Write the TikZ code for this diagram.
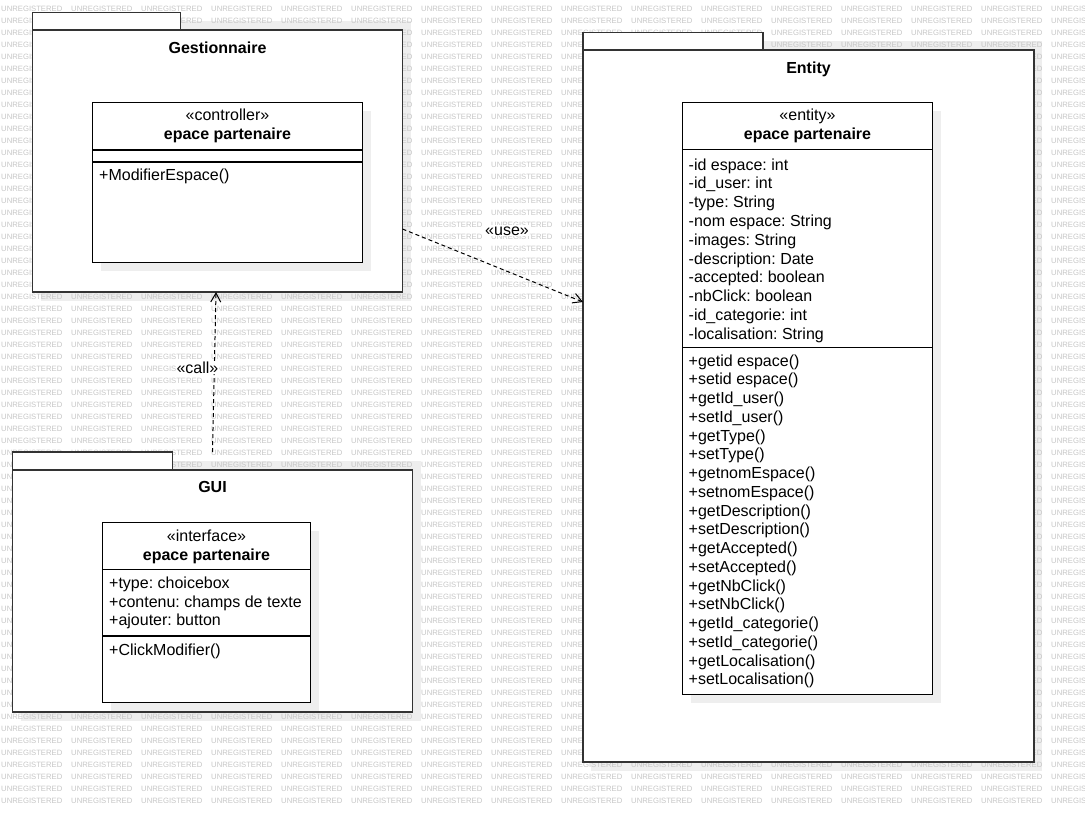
\documentclass[tikz,border=0pt]{standalone}
\usepackage{fontspec}
\setmainfont{Liberation Sans}
\usetikzlibrary{arrows.meta}

\definecolor{shadowgray}{HTML}{EEEEEE}
\definecolor{markgray}{HTML}{C6C6C6}
\definecolor{pkgline}{HTML}{333333}

\begin{document}
\frenchspacing
\begin{tikzpicture}[x=1pt,y=-1pt,font=\fontsize{16}{18.8}\selectfont]
  \tikzstyle{pkgshadow}=[fill=shadowgray,inner sep=0pt,outer sep=0pt,anchor=north west]
  \tikzstyle{pkg}=[draw=pkgline,fill=white,line width=1.4pt,inner sep=0pt,outer sep=0pt,anchor=north west]
  \tikzstyle{clsshadow}=[fill=shadowgray,inner sep=0pt,outer sep=0pt,anchor=north west]
  \tikzstyle{cls}=[draw=black,fill=white,line width=1.2pt,inner sep=0pt,outer sep=0pt,anchor=north west]
  \tikzstyle{pkgtitle}=[inner sep=0pt,anchor=base,font=\fontsize{16}{18.8}\selectfont\bfseries]
  \tikzstyle{stereo}=[inner sep=0pt,anchor=base]
  \tikzstyle{member}=[inner sep=0pt,anchor=base west]
  \tikzstyle{wmark}=[inner sep=0pt,anchor=west,text=markgray,font=\fontsize{7.7}{8}\selectfont]
  \tikzstyle{dep}=[draw,line width=1pt,dash pattern=on 4pt off 3pt,-{Straight Barb[length=9pt,width=10pt]}]
  \tikzstyle{deplabel}=[fill=white,inner sep=1pt,anchor=base]
  \useasboundingbox (0,0) rectangle (1085,812);
  % package shadows
  \node[pkgshadow,minimum width=370pt,minimum height=280pt] (gestshd) at (40.5,20.5) {};
  \node[pkgshadow,minimum width=451pt,minimum height=730pt] (entshd) at (591,40.5) {};
  \node[pkgshadow,minimum width=400pt,minimum height=260pt] (guishd) at (20.5,460.5) {};
  % watermark
  \begin{scope}
    \clip (0,0) rectangle (1085,812);
    \foreach \r in {0,...,66}
      \foreach \c in {0,...,15}
        \node[wmark] (wm-\r-\c) at (70*\c+1,9+12*\r) {UNREGISTERED};
  \end{scope}
  % Gestionnaire
  \node[pkg,minimum width=148pt,minimum height=18pt] (gesttab) at (32.5,12.5) {};
  \node[pkg,minimum width=370pt,minimum height=262pt] (gest) at (32.5,30) {};
  \node[pkgtitle] (gesttitle) at (217.5,53) {Gestionnaire};
  \node[clsshadow,minimum width=270pt,minimum height=160pt] (ctrlshd) at (100.5,110.5) {};
  \node[cls,minimum width=270pt,minimum height=160pt] (ctrl) at (92.5,102.5) {};
  \node[stereo] (ctrlstereo) at (227.5,120.5) {«controller»};
  \node[stereo,font=\fontsize{16}{18.8}\selectfont\bfseries] (ctrlname) at (227.5,139.5) {epace partenaire};
  \draw[line width=1.2pt] (ctrl.west |- 0,150) -- (ctrl.east |- 0,150);
  \draw[line width=1.2pt] (ctrl.west |- 0,162) -- (ctrl.east |- 0,162);
  \node[member] (ctrlop0) at (99,180.5) {+ModifierEspace()};
  % Entity
  \node[pkg,minimum width=180pt,minimum height=18pt] (enttab) at (583,32.5) {};
  \node[pkg,minimum width=451pt,minimum height=712pt] (entity) at (583,50) {};
  \node[pkgtitle] (enttitle) at (808.5,73) {Entity};
  \node[clsshadow,minimum width=250pt,minimum height=592pt] (entclsshd) at (690.5,110.5) {};
  \node[cls,minimum width=250pt,minimum height=592pt] (entcls) at (682.5,102.5) {};
  \node[stereo] (entstereo) at (807.5,120.5) {«entity»};
  \node[stereo,font=\fontsize{16}{18.8}\selectfont\bfseries] (entname) at (807.5,139.5) {epace partenaire};
  \draw[line width=1.2pt] (entcls.west |- 0,149.5) -- (entcls.east |- 0,149.5);
  \foreach \txt [count=\i from 0] in {-id espace: int,-id\_user: int,-type: String,
      -nom espace: String,-images: String,-description: Date,-accepted: boolean,
      -nbClick: boolean,-id\_categorie: int,-localisation: String}
    \node[member] (entattr\i) at (688.5,170+18.8*\i) {\txt};
  \draw[line width=1.2pt] (entcls.west |- 0,347.5) -- (entcls.east |- 0,347.5);
  \foreach \txt [count=\i from 0] in {+getid espace(),+setid espace(),+getId\_user(),
      +setId\_user(),+getType(),+setType(),+getnomEspace(),+setnomEspace(),
      +getDescription(),+setDescription(),+getAccepted(),+setAccepted(),
      +getNbClick(),+setNbClick(),+getId\_categorie(),+setId\_categorie(),
      +getLocalisation(),+setLocalisation()}
    \node[member] (entop\i) at (688.5,366+18.76*\i) {\txt};
  % GUI
  \node[pkg,minimum width=160pt,minimum height=18pt] (guitab) at (12.5,452) {};
  \node[pkg,minimum width=400pt,minimum height=242pt] (gui) at (12.5,470) {};
  \node[pkgtitle] (guititle) at (212.5,492.5) {GUI};
  \node[clsshadow,minimum width=208pt,minimum height=180pt] (ifaceshd) at (110.5,530.5) {};
  \node[cls,minimum width=208pt,minimum height=180pt] (iface) at (102.5,522.5) {};
  \node[stereo] (ifacestereo) at (206.5,541) {«interface»};
  \node[stereo,font=\fontsize{16}{18.8}\selectfont\bfseries] (ifacename) at (206.5,560) {epace partenaire};
  \draw[line width=1.2pt] (iface.west |- 0,569.5) -- (iface.east |- 0,569.5);
  \foreach \txt [count=\i from 0] in {+type: choicebox,+contenu: champs de texte,+ajouter: button}
    \node[member] (ifaceattr\i) at (109,588.3+18.7*\i) {\txt};
  \draw[line width=1.2pt] (iface.west |- 0,636) -- (iface.east |- 0,636);
  \node[member] (ifaceop0) at (109,655) {+ClickModifier()};
  % dependencies
  \draw[dep] ([yshift=-68pt]gest.east) -- ([yshift=104pt]entity.west);
  \node[deplabel] (uselabel) at (507,235) {«use»};
  \draw[dep] ([yshift=18pt]gui.north) -- ([xshift=-1.5pt]gest.south);
  \node[deplabel] (calllabel) at (197.5,373.3) {«call»};
\end{tikzpicture}
\end{document}
